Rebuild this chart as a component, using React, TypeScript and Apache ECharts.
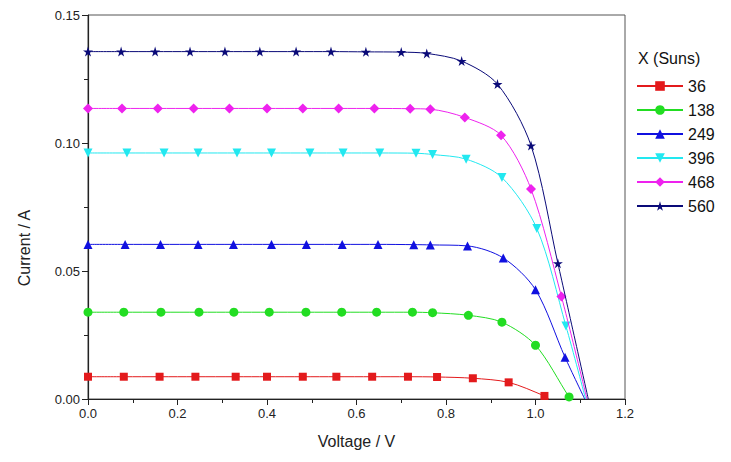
import React, { useEffect, useRef } from "react";
import * as echarts from "echarts";

const seriesNames = ["36", "138", "249", "396", "468", "560"];
const seriesColors = ["#e31a1c", "#22dd22", "#1010e0", "#22e8f0", "#ee22ee", "#0a0a78"];

const v36 = [0, 0.08, 0.16, 0.24, 0.33, 0.4, 0.48, 0.555, 0.635, 0.715, 0.78, 0.86, 0.94, 1.02, 1.03];
const i36 = [0.0087, 0.0087, 0.0087, 0.0087, 0.0087, 0.0087, 0.0087, 0.0087, 0.0087, 0.0087, 0.0086, 0.0081, 0.0065, 0.0012, 0];

const v138 = [0, 0.08, 0.163, 0.248, 0.326, 0.405, 0.487, 0.567, 0.645, 0.725, 0.77, 0.85, 0.925, 1.0, 1.075, 1.08];
const i138 = [0.0339, 0.0339, 0.0339, 0.0339, 0.0339, 0.0339, 0.0339, 0.0339, 0.0339, 0.0339, 0.0337, 0.0327, 0.03, 0.021, 0.0008, 0];

const v249 = [0, 0.083, 0.162, 0.246, 0.325, 0.41, 0.488, 0.568, 0.648, 0.728, 0.765, 0.848, 0.928, 1.0, 1.066, 1.11];
const i249 = [0.0604, 0.0604, 0.0604, 0.0604, 0.0604, 0.0604, 0.0604, 0.0604, 0.0604, 0.0603, 0.0602, 0.0598, 0.0551, 0.0427, 0.0163, 0];

const v396 = [0, 0.087, 0.17, 0.246, 0.333, 0.41, 0.496, 0.57, 0.652, 0.733, 0.77, 0.845, 0.925, 1.003, 1.068, 1.112];
const i396 = [0.0961, 0.0961, 0.0961, 0.0961, 0.0961, 0.0961, 0.0961, 0.0961, 0.0961, 0.096, 0.0955, 0.0937, 0.0865, 0.0666, 0.0285, 0];

const v468 = [0, 0.076, 0.156, 0.236, 0.316, 0.4, 0.48, 0.56, 0.64, 0.72, 0.765, 0.842, 0.923, 0.99, 1.058, 1.115];
const i468 = [0.1135, 0.1135, 0.1135, 0.1135, 0.1135, 0.1135, 0.1135, 0.1135, 0.1135, 0.1134, 0.1132, 0.11, 0.103, 0.082, 0.04, 0];

const v560 = [0, 0.074, 0.15, 0.228, 0.306, 0.384, 0.465, 0.543, 0.621, 0.7, 0.757, 0.835, 0.915, 0.99, 1.05, 1.118];
const i560 = [0.1357, 0.1357, 0.1357, 0.1357, 0.1357, 0.1357, 0.1357, 0.1357, 0.1356, 0.1355, 0.135, 0.132, 0.123, 0.099, 0.053, 0];

const xTicks = ["0.0", "0.2", "0.4", "0.6", "0.8", "1.0", "1.2"];
const yTicks = ["0.00", "0.05", "0.10", "0.15"];

const STAR = "path://M50,0 L61,35 L98,35 L68,57 L79,91 L50,70 L21,91 L32,57 L2,35 L39,35 Z";

const symbols = ["rect", "circle", "triangle", "triangle", "diamond", STAR];
const symbolSizes = [8, 9, 9, 9, 10, 10];
const symbolRotates = [0, 0, 0, 180, 0, 0];

const voltages = [v36, v138, v249, v396, v468, v560];
const currents = [i36, i138, i249, i396, i468, i560];

const FONT = "Liberation Sans, Arial, sans-serif";

export default function App() {
  const ref = useRef<HTMLDivElement>(null);
  useEffect(() => {
    if (!ref.current) return;
    const chart = echarts.init(ref.current, undefined, { renderer: "svg" });
    const series = seriesNames.map((name, k) => {
      const xs = voltages[k];
      const ys = currents[k];
      const data = xs.map((x, j) => {
        const isEnd = j === xs.length - 1;
        return isEnd ? { value: [x, ys[j]], symbol: "none" } : { value: [x, ys[j]] };
      });
      return {
        name,
        type: "line",
        data,
        smooth: 0.3,
        symbol: symbols[k],
        symbolSize: symbolSizes[k],
        symbolRotate: symbolRotates[k],
        showAllSymbol: true,
        itemStyle: { color: seriesColors[k] },
        lineStyle: { color: seriesColors[k], width: 1 },
        z: 3 + k,
      };
    });
    chart.setOption({
      animation: false,
      backgroundColor: "#ffffff",
      textStyle: { fontFamily: FONT },
      grid: {
        left: 80,
        top: 7,
        right: 98,
        bottom: 54,
        show: true,
        borderColor: "#555",
        borderWidth: 1,
      },
      legend: {
        orient: "vertical",
        left: 623,
        top: 65,
        itemWidth: 46,
        itemHeight: 12,
        itemGap: 8,
        itemStyle: { borderWidth: 0 },
        textStyle: { fontSize: 16, color: "#111", fontFamily: FONT },
        data: seriesNames,
      },
      xAxis: {
        type: "value",
        min: 0,
        max: 1.2,
        interval: 0.2,
        name: "Voltage / V",
        nameLocation: "middle",
        nameGap: 34,
        nameTextStyle: { fontSize: 16, color: "#222" },
        axisLine: { lineStyle: { color: "#222", width: 1.2 } },
        axisTick: { length: 6, lineStyle: { color: "#222" } },
        minorTick: { show: true, splitNumber: 2, length: 4, lineStyle: { color: "#222" } },
        splitLine: { show: false },
        axisLabel: {
          fontSize: 13,
          color: "#222",
          margin: 8,
          formatter: (v: number) => xTicks[Math.round(v / 0.2)] ?? v.toFixed(1),
        },
      },
      yAxis: {
        type: "value",
        min: 0,
        max: 0.15,
        interval: 0.05,
        axisLine: { show: true, lineStyle: { color: "#222", width: 1.2 } },
        axisTick: { show: true, length: 6, lineStyle: { color: "#222" } },
        minorTick: { show: true, splitNumber: 2, length: 4, lineStyle: { color: "#222" } },
        splitLine: { show: false },
        axisLabel: {
          fontSize: 13,
          color: "#222",
          margin: 8,
          formatter: (v: number) => yTicks[Math.round(v / 0.05)] ?? v.toFixed(2),
        },
      },
      graphic: [
        {
          type: "text",
          left: 630,
          top: 42,
          style: { text: "X (Suns)", fontSize: 16, fill: "#111", fontFamily: FONT },
        },
        {
          type: "text",
          x: 16,
          y: 240,
          rotation: Math.PI / 2,
          style: {
            text: "Current / A",
            fontSize: 16,
            fill: "#222",
            align: "center",
            verticalAlign: "middle",
            fontFamily: FONT,
          },
        },
      ],
      series,
    });
    return () => chart.dispose();
  }, []);
  return <div ref={ref} style={{ width: 715, height: 446 }} />;
}
